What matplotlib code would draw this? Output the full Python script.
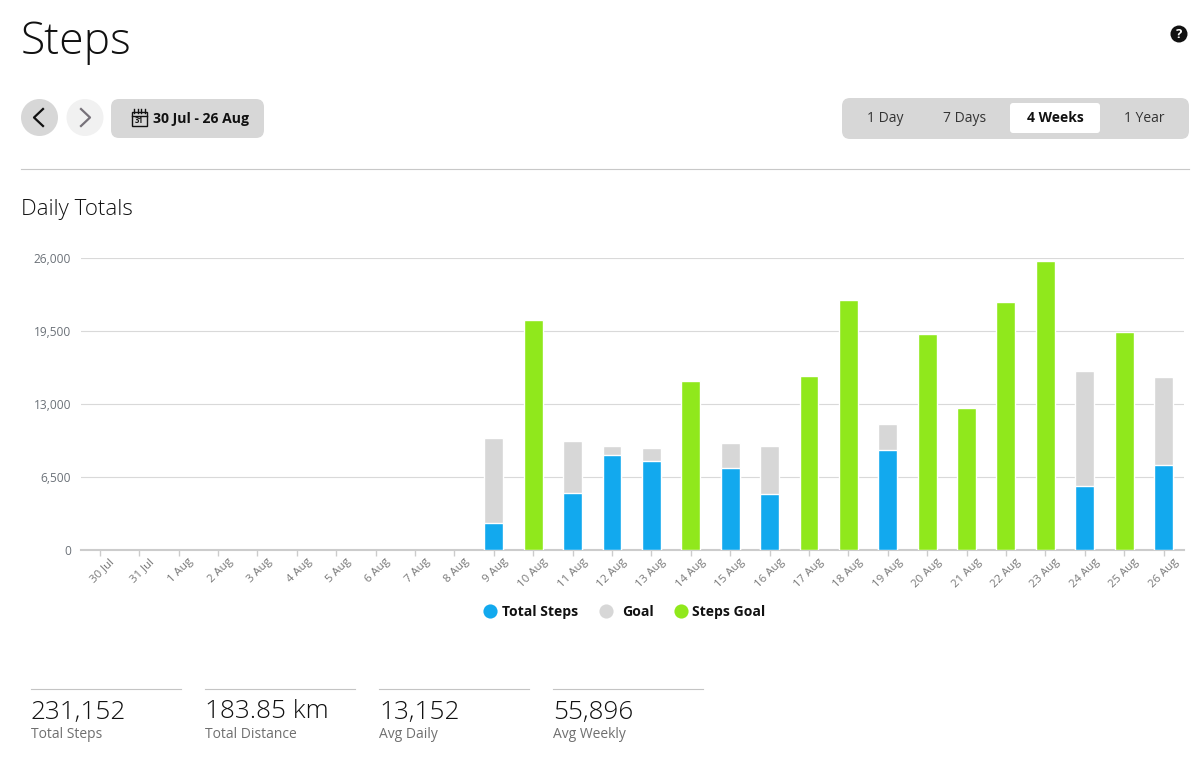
import numpy as np
import matplotlib.pyplot as plt
from matplotlib.patches import FancyBboxPatch, Circle, Rectangle
from matplotlib.transforms import ScaledTranslation

plt.rcParams['font.family'] = ['Open Sans', 'DejaVu Sans']

# Data
days = ['30 Jul', '31 Jul', '1 Aug', '2 Aug', '3 Aug', '4 Aug', '5 Aug', '6 Aug', '7 Aug', '8 Aug',
        '9 Aug', '10 Aug', '11 Aug', '12 Aug', '13 Aug', '14 Aug', '15 Aug', '16 Aug', '17 Aug',
        '18 Aug', '19 Aug', '20 Aug', '21 Aug', '22 Aug', '23 Aug', '24 Aug', '25 Aug', '26 Aug']
total_steps = [0, 0, 0, 0, 0, 0, 0, 0, 0, 0,
               2400, 0, 5050, 8500, 7950, 0, 7300, 5000, 0,
               0, 8950, 0, 0, 0, 0, 5700, 0, 7600]
goal = [0, 0, 0, 0, 0, 0, 0, 0, 0, 0,
        10000, 0, 9700, 9300, 9100, 0, 9550, 9300, 0,
        0, 11200, 0, 0, 0, 0, 16000, 0, 15450]
steps_goal = [0, 0, 0, 0, 0, 0, 0, 0, 0, 0,
              0, 20550, 0, 0, 0, 15100, 0, 0, 15550,
              22300, 0, 19300, 12700, 22150, 25800, 0, 19400, 0]
y_ticks = [0, 6500, 13000, 19500, 26000]
stat_values = ['231,152', '183.85 km', '13,152', '55,896']
stat_names = ['Total Steps', 'Total Distance', 'Avg Daily', 'Avg Weekly']
stat_x = [31, 205, 379, 553]
ranges = ['1 Day', '7 Days', '4 Weeks', '1 Year']
range_x = [885, 965, 1055, 1144]
legend_names = ['Total Steps', 'Goal', 'Steps Goal']
legend_dot_x = [489.5, 605.5, 681]
legend_text_x = [502, 622, 692]

BLUE = '#12a9ee'
GREY = '#d7d7d7'
GREEN = '#90e81c'
INK = '#111111'

W, H = 1200, 772
fig = plt.figure(figsize=(W / 100, H / 100), dpi=100, facecolor='white')


def rounded(ax, x, y, w, h, r, color):
    ax.add_patch(FancyBboxPatch((x + r, y + r), w - 2 * r, h - 2 * r,
                                boxstyle=f'round,pad={r},rounding_size={r}', fc=color, ec='none'))


# Page furniture, in pixel coordinates
ui = fig.add_axes([0, 0, 1, 1])
ui.set_xlim(0, W)
ui.set_ylim(H, 0)
ui.axis('off')

ui.text(21, 43, 'Steps', fontsize=32, fontweight='light', color=INK, va='center')
ui.text(21, 209, 'Daily Totals', fontsize=16, fontweight='light', color=INK, va='center')

# help icon
ui.add_patch(Circle((1179, 34), 8.5, color=INK, lw=0))
ui.text(1179, 34, '?', fontsize=9.5, fontweight='bold', color='white', ha='center', va='center')

# back / forward buttons
ui.add_patch(Circle((39.5, 117.5), 18.5, color=GREY, lw=0))
ui.add_patch(Circle((85, 117.5), 18.5, color='#f1f1f1', lw=0))
ui.plot([43, 34, 43], [109, 117.5, 126], color=INK, lw=1.6)
ui.plot([81, 90, 81], [109, 117.5, 126], color='#77727a', lw=1.6)

# date range button
rounded(ui, 111, 99, 153, 39, 8, GREY)
ui.add_patch(Rectangle((131.5, 112), 15, 13.5, fc='none', ec=INK, lw=1))
ui.plot([131.5, 146.5], [115.5, 115.5], color=INK, lw=1)
for cx in [134, 137.5, 141, 144.5]:
    ui.plot([cx, cx], [108.5, 112.5], color=INK, lw=1)
ui.text(139, 120.7, '31', fontsize=5.5, fontweight='bold', color=INK, ha='center', va='center')
ui.text(153, 118.5, '30 Jul - 26 Aug', fontsize=10.1, fontweight='bold', color=INK, va='center')

# range selector
rounded(ui, 842, 98, 347, 41, 8, GREY)
rounded(ui, 1010, 103, 90, 30, 3, 'white')
for label, x in zip(ranges, range_x):
    bold = label == '4 Weeks'
    ui.text(x, 118.5, label, fontsize=10, fontweight='bold' if bold else 'normal',
            color=INK if bold else '#333333', ha='center', va='center')

ui.plot([21, 1189], [169, 169], color='#c8c8c8', lw=0.8)

# stats row
for x, value, name in zip(stat_x, stat_values, stat_names):
    ui.plot([x, x + 150], [689, 689], color='#c4c4c4', lw=0.8)
    ui.text(x, 712, value, fontsize=18.8, fontweight='light', color=INK, va='center')
    ui.text(x, 734, name, fontsize=10, color='#6f6f6f', va='center')

# legend
for name, dot_x, text_x, c in zip(legend_names, legend_dot_x, legend_text_x, [BLUE, GREY, GREEN]):
    ui.plot(dot_x, 611, 'o', ms=10.2, mew=0, color=c)
    ui.text(text_x, 612, name, fontsize=10.1, fontweight='bold', color=INK, va='center')

# Chart
ax = fig.add_axes([81 / W, 1 - 550 / H, 1103 / W, 291.6 / H])
ax.set_facecolor('none')
x = np.arange(len(days))
blue = np.array(total_steps)
grey = np.array(goal)
green = np.array(steps_goal)
has_blue = blue > 0
has_green = green > 0
bar_w = 0.48

ax.bar(x[has_blue], grey[has_blue], width=bar_w, color=GREY, edgecolor='white', lw=1, zorder=3)
ax.bar(x[has_blue], blue[has_blue], width=bar_w, color=BLUE, edgecolor='white', lw=1, zorder=4)
ax.bar(x[has_green], green[has_green], width=bar_w, color=GREEN, edgecolor='white', lw=1, zorder=3)

ax.set_xlim(-0.48, 27.52)
ax.set_ylim(0, 26000)
ax.set_yticks(y_ticks)
ax.set_yticklabels([f'{v:,}' for v in y_ticks], fontsize=8.6, color='#6b7178')
ax.tick_params(axis='y', length=0, pad=7)
ax.grid(axis='y', color='#d9d9d9', lw=0.8, zorder=0)
ax.set_axisbelow(True)
ax.set_xticks(x)
ax.set_xticklabels(days, rotation=45, ha='right', rotation_mode='anchor', fontsize=8.2, color='#777777')
ax.tick_params(axis='x', length=4, width=1, color='#cccccc', pad=4)
# labels sit further right and higher than the default anchor
shift = ScaledTranslation(0.09, 0.05, fig.dpi_scale_trans)
for lab in ax.get_xticklabels():
    lab.set_transform(lab.get_transform() + shift)
for side in ['top', 'left', 'right']:
    ax.spines[side].set_visible(False)
ax.spines['bottom'].set_color('#cccccc')
ax.spines['bottom'].set_linewidth(1.5)
ax.spines['bottom'].set_zorder(2)

fig.savefig('out.png', dpi=100)
